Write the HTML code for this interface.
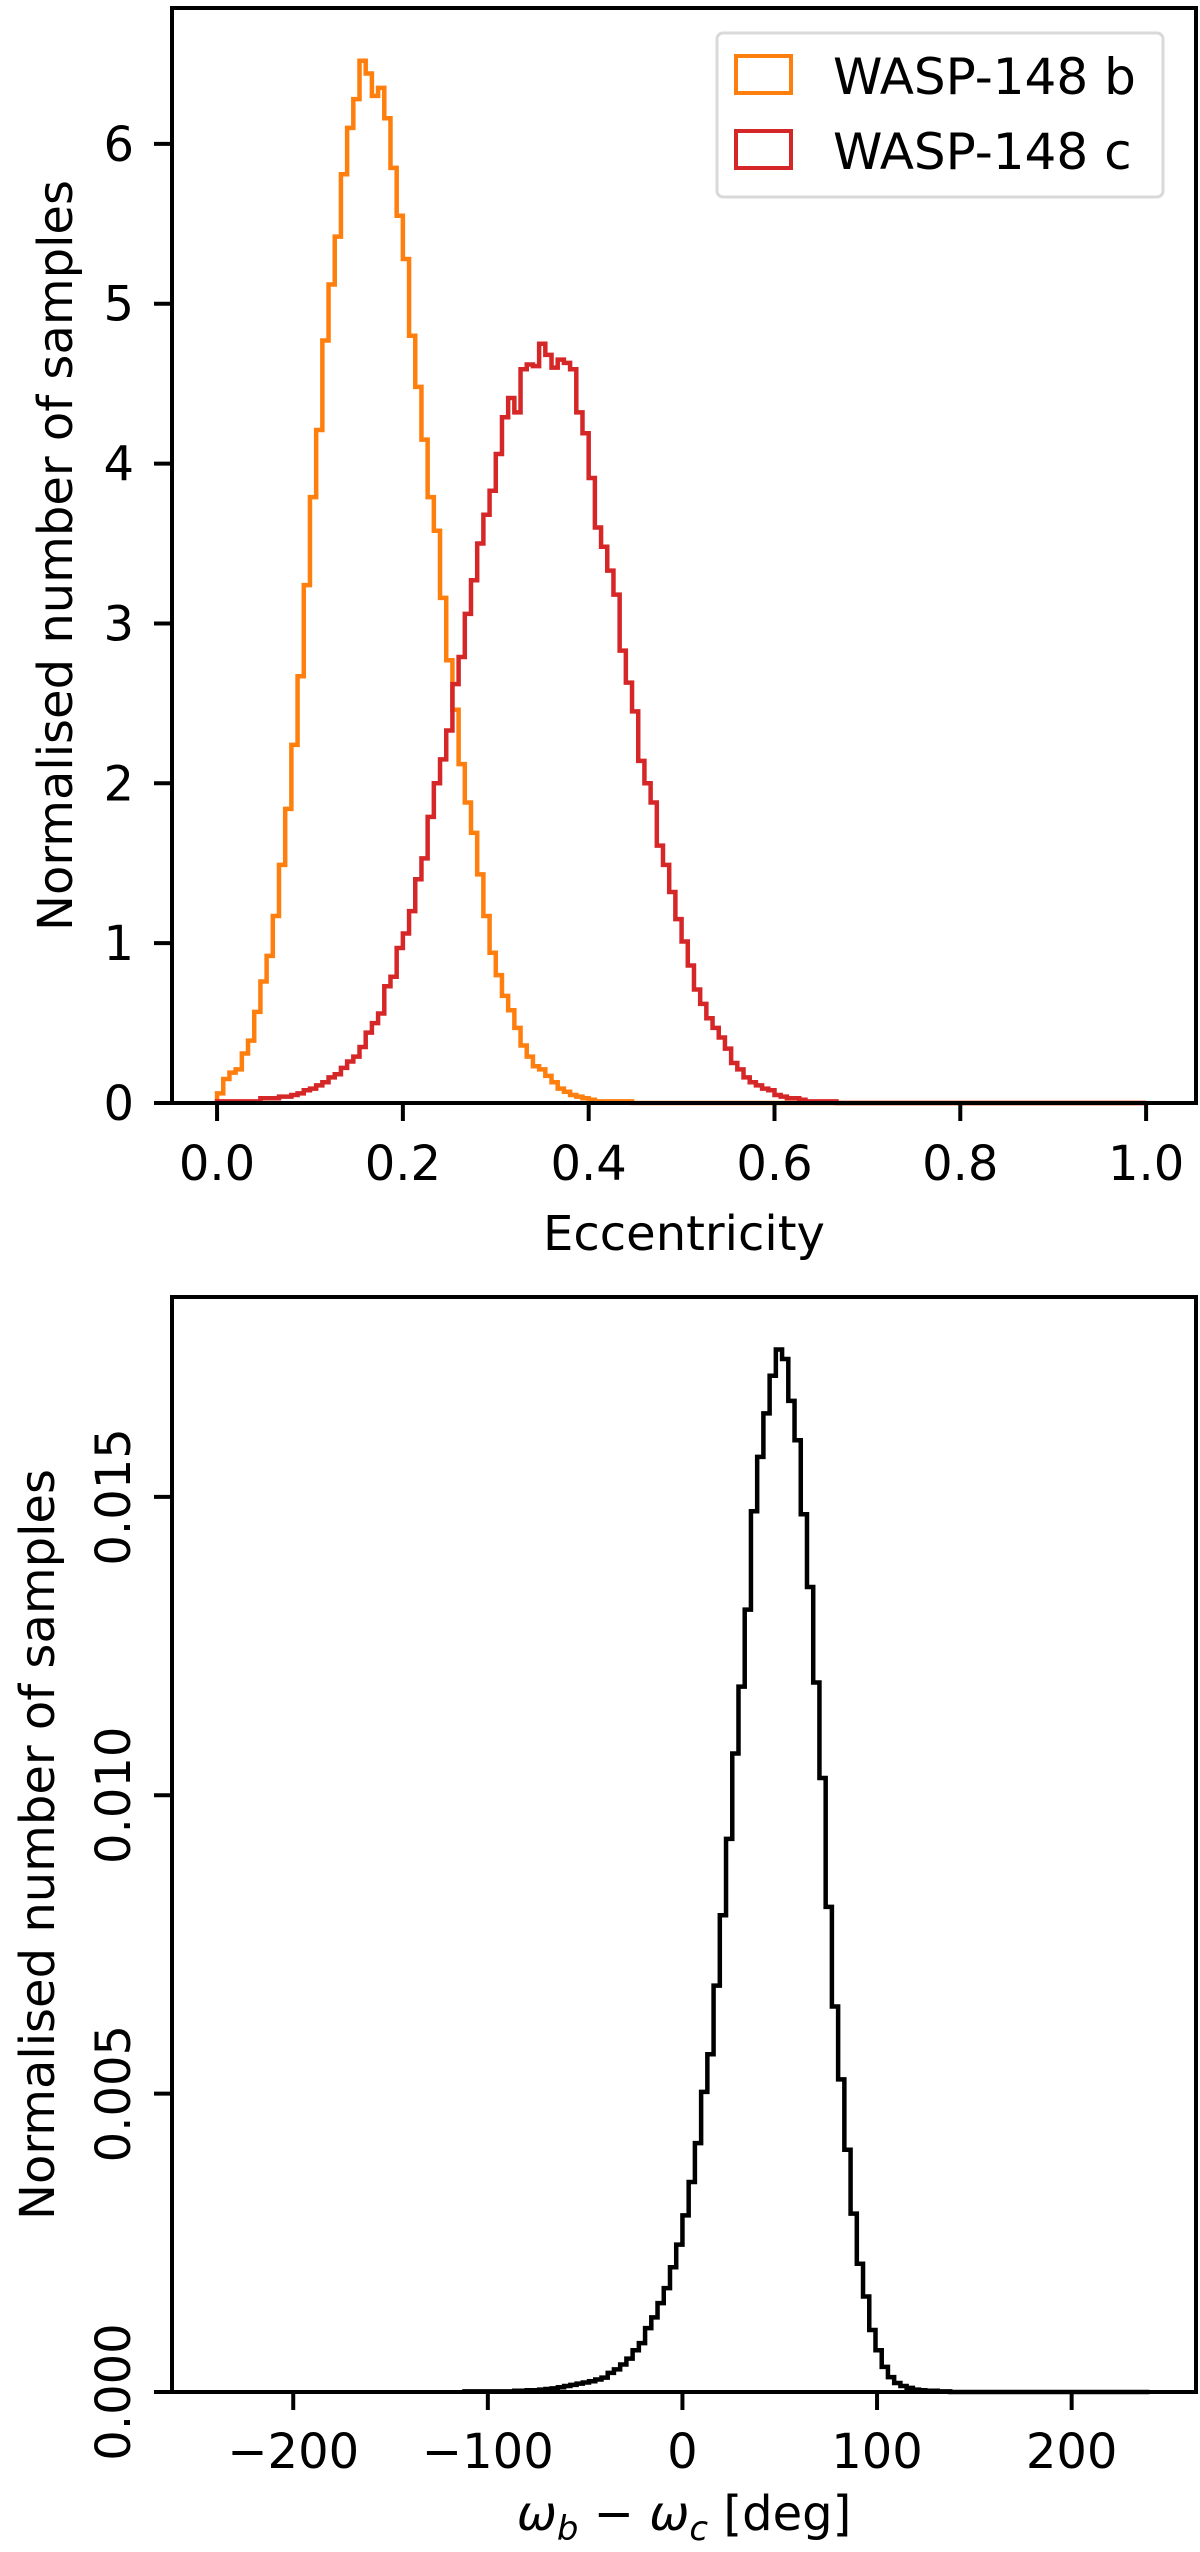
<!DOCTYPE html>
<html><head><meta charset="utf-8"><style>
html,body{margin:0;padding:0;background:#fff}
svg{display:block}
text{font-family:"DejaVu Sans","Liberation Sans",sans-serif;fill:#000}
</style></head><body>
<svg id="fig" width="1200" height="2552" viewBox="0 0 1200 2552" xmlns="http://www.w3.org/2000/svg">
<g id="top"></g>
<g id="bot"></g>
</svg>
<script>
// ---- Top panel data (150 bins over 0..1) ----
const eccBinCount = 150;
const eccTicks = [0.0, 0.2, 0.4, 0.6, 0.8, 1.0];
const eccTickLabels = ["0.0", "0.2", "0.4", "0.6", "0.8", "1.0"];
const eccYTicks = [0, 1, 2, 3, 4, 5, 6];
const eccYTickLabels = ["0", "1", "2", "3", "4", "5", "6"];
const eccB = [0.06,0.15,0.19,0.21,0.31,0.39,0.57,0.76,0.92,1.17,1.49,1.84,2.24,2.67,3.24,3.79,4.21,4.77,5.12,5.42,5.81,6.10,6.28,6.52,6.44,6.30,6.35,6.16,5.85,5.55,5.28,4.80,4.48,4.15,3.79,3.58,3.16,2.77,2.46,2.12,1.88,1.69,1.43,1.17,0.94,0.80,0.67,0.58,0.47,0.36,0.29,0.23,0.21,0.17,0.13,0.09,0.07,0.05,0.04,0.03,0.02,0.01,0.01,0.01,0.01,0.01,0.01];
const eccC = [0.01,0.01,0.01,0.01,0.01,0.01,0.01,0.03,0.03,0.03,0.04,0.04,0.05,0.06,0.08,0.09,0.11,0.13,0.16,0.18,0.22,0.26,0.29,0.35,0.44,0.50,0.56,0.73,0.79,0.97,1.06,1.20,1.40,1.53,1.79,2.00,2.15,2.33,2.62,2.79,3.06,3.27,3.50,3.68,3.83,4.06,4.29,4.41,4.32,4.59,4.62,4.61,4.75,4.68,4.60,4.65,4.63,4.59,4.32,4.19,3.91,3.60,3.48,3.33,3.18,2.83,2.63,2.45,2.14,2.00,1.88,1.61,1.49,1.32,1.15,1.01,0.86,0.71,0.62,0.53,0.47,0.41,0.34,0.25,0.21,0.16,0.13,0.11,0.09,0.08,0.05,0.04,0.03,0.03,0.02,0.01,0.01,0.01,0.01,0.01];
const legendLabels = ["WASP-148 b", "WASP-148 c"];

// ---- Bottom panel data (150 bins over -240..240, values in units of 1e-3) ----
const omBinCount = 150;
const omRange = [-240, 240];
const omTicks = [-200, -100, 0, 100, 200];
const omTickLabels = ["\u2212200", "\u2212100", "0", "100", "200"];
const omYTicks = [0, 0.005, 0.010, 0.015];
const omYTickLabels = ["0.000", "0.005", "0.010", "0.015"];
const omStart = 40;
const omVals = [0.01,0.01,0.01,0.01,0.01,0.01,0.01,0.01,0.02,0.02,0.03,0.03,0.04,0.05,0.06,0.08,0.10,0.12,0.14,0.16,0.18,0.21,0.24,0.32,0.38,0.46,0.56,0.70,0.82,1.07,1.25,1.49,1.74,2.09,2.47,2.96,3.52,4.17,5.03,5.66,6.81,7.99,9.27,10.70,11.82,13.11,14.76,15.67,16.40,17.03,17.47,17.31,16.61,15.95,14.71,13.49,11.89,10.29,8.13,6.46,5.24,4.06,2.99,2.15,1.60,1.04,0.70,0.42,0.25,0.15,0.10,0.07,0.04,0.03,0.02,0.02,0.01,0.01];

const NS = "http://www.w3.org/2000/svg";
function mk(parent, tag, attrs, txt) {
  const e = document.createElementNS(NS, tag);
  for (const k in attrs) e.setAttribute(k, attrs[k]);
  if (txt !== undefined) e.textContent = txt;
  parent.appendChild(e);
  return e;
}
function stepPath(vals, start, n, x0, x1, sx, sy) {
  const w = (x1 - x0) / n;
  let d = "M" + sx(x0 + start * w) + "," + sy(0);
  for (let i = 0; i < vals.length; i++) {
    const a = x0 + (start + i) * w, b = a + w;
    d += " L" + sx(a) + "," + sy(vals[i]) + " L" + sx(b) + "," + sy(vals[i]);
  }
  d += " L" + sx(x0 + (start + vals.length) * w) + "," + sy(0) + " L" + sx(x1) + "," + sy(0);
  return d;
}

// ---- Top panel ----
(function () {
  const g = document.getElementById("top");
  const L = 172, R = 1196, T = 8, B = 1103;
  const xmin = -0.0485, xmax = 1.0537, ymin = 0, ymax = 6.85;
  const sx = v => L + (v - xmin) / (xmax - xmin) * (R - L);
  const sy = v => B - (v - ymin) / (ymax - ymin) * (B - T);

  const pb = mk(g, "path", {d: stepPath(eccB, 0, eccBinCount, 0, 1, sx, sy), fill: "none", stroke: "#ff7f0e", "stroke-width": 4.5, "stroke-linejoin": "miter"});
  
  
  const pc = mk(g, "path", {d: stepPath(eccC, 0, eccBinCount, 0, 1, sx, sy), fill: "none", stroke: "#d62728", "stroke-width": 4.5, "stroke-linejoin": "miter"});
  
  

  const fr = mk(g, "rect", {x: L, y: T, width: R - L, height: B - T, fill: "none", stroke: "#000", "stroke-width": 4});
  
  

  eccTicks.forEach((t, i) => {
    const x = sx(t);
    const tk = mk(g, "line", {x1: x, x2: x, y1: B, y2: B + 18, stroke: "#000", "stroke-width": 4});
    
    
    const lb = mk(g, "text", {x: x, y: 1180, "font-size": 48, "text-anchor": "middle"}, eccTickLabels[i]);
    
    
  });
  eccYTicks.forEach((t, i) => {
    const y = sy(t);
    const tk = mk(g, "line", {x1: L - 18, x2: L, y1: y, y2: y, stroke: "#000", "stroke-width": 4});
    
    
    const lb = mk(g, "text", {x: 134, y: y + 17, "font-size": 48, "text-anchor": "end"}, eccYTickLabels[i]);
    
    
  });
  const xl = mk(g, "text", {x: (L + R) / 2, y: 1250, "font-size": 48, "text-anchor": "middle"}, "Eccentricity");
  
  
  const yl = mk(g, "text", {x: 0, y: 0, "font-size": 48, "text-anchor": "middle", transform: "translate(72," + ((T + B) / 2) + ") rotate(-90)"}, "Normalised number of samples");
  
  

  const lg = mk(g, "g", {});
  
  
  mk(lg, "rect", {x: 717, y: 33, width: 446, height: 164, rx: 6, fill: "#fff", "fill-opacity": 0.8, stroke: "#d9d9d9", "stroke-width": 3});
  const colors = ["#ff7f0e", "#d62728"];
  const rowY = [56, 131];
  legendLabels.forEach((lab, i) => {
    const sw = mk(lg, "rect", {x: 736, y: rowY[i], width: 55, height: 37, fill: "none", stroke: colors[i], "stroke-width": 4});
    
    
    const tx = mk(lg, "text", {x: 833, y: rowY[i] + 38, "font-size": 50}, lab);
    
    
  });
})();

// ---- Bottom panel ----
(function () {
  const g = document.getElementById("bot");
  const L = 172, R = 1196, T = 1297, B = 2392;
  const xmin = -262.3, xmax = 263.9, ymin = 0, ymax = 0.01835;
  const sx = v => L + (v - xmin) / (xmax - xmin) * (R - L);
  const sy = v => B - (v - ymin) / (ymax - ymin) * (B - T);
  const vals = omVals.map(v => v * 0.001);

  const p = mk(g, "path", {d: stepPath(vals, omStart, omBinCount, omRange[0], omRange[1], sx, sy), fill: "none", stroke: "#000", "stroke-width": 4.5});
  
  

  const fr = mk(g, "rect", {x: L, y: T, width: R - L, height: B - T, fill: "none", stroke: "#000", "stroke-width": 4});
  
  

  omTicks.forEach((t, i) => {
    const x = sx(t);
    const tk = mk(g, "line", {x1: x, x2: x, y1: B, y2: B + 18, stroke: "#000", "stroke-width": 4});
    
    
    const lb = mk(g, "text", {x: x, y: 2468, "font-size": 48, "text-anchor": "middle"}, omTickLabels[i]);
    
    
  });
  omYTicks.forEach((t, i) => {
    const y = sy(t);
    const tk = mk(g, "line", {x1: L - 18, x2: L, y1: y, y2: y, stroke: "#000", "stroke-width": 4});
    
    
    const lb = mk(g, "text", {x: 0, y: 0, "font-size": 48, "text-anchor": "middle", transform: "translate(130," + y + ") rotate(-90)"}, omYTickLabels[i]);
    
    
  });
  const xl = mk(g, "text", {x: (L + R) / 2, y: 2530, "font-size": 48, "text-anchor": "middle"});
  
  
  xl.innerHTML = '<tspan font-style="italic">ω</tspan><tspan font-style="italic" font-size="34" dy="10">b</tspan><tspan dy="-10"> − </tspan><tspan font-style="italic">ω</tspan><tspan font-style="italic" font-size="34" dy="10">c</tspan><tspan dy="-10"> [deg]</tspan>';
  const yl = mk(g, "text", {x: 0, y: 0, "font-size": 48, "text-anchor": "middle", transform: "translate(54," + ((T + B) / 2) + ") rotate(-90)"}, "Normalised number of samples");
  
  
})();
</script>
</body></html>
